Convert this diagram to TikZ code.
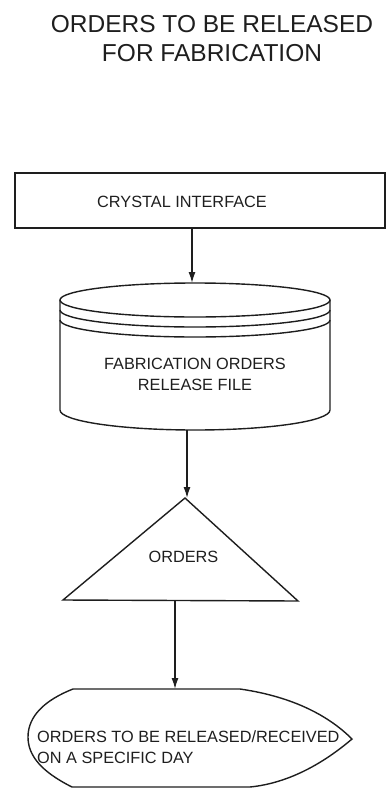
\documentclass[tikz,border=0pt]{standalone}
\usepackage{fontspec}
\setmainfont{Liberation Sans}
\usepackage{tikz}
\usetikzlibrary{positioning,arrows.meta,calc}
\definecolor{inkgray}{HTML}{1E1E1E}
\tikzset{
  box/.style={draw=inkgray,line width=1.6pt,inner sep=0pt},
  lbl/.style={text=inkgray,inner sep=0pt,font=\fontsize{16.3}{21}\selectfont},
  head/.style={text=inkgray,inner sep=0pt,align=center,font=\fontsize{24.5}{29}\selectfont},
  shape line/.style={draw=inkgray,line width=1.4pt},
  arr/.style={-{Latex[length=11pt,width=7pt]},line width=1.4pt,draw=inkgray},
}

\begin{document}
\begin{tikzpicture}[x=1pt,y=-1pt]
\useasboundingbox (0,0) rectangle (390,790);

% heading
\node[head] (title) at (212,38.5) {ORDERS TO BE RELEASED\\FOR FABRICATION};

% interface box
\node[box,minimum width=370pt,minimum height=55pt] (crystal) at (200,200.5) {};
\node[lbl] (crystaltxt) at (182,202) {CRYSTAL INTERFACE};

% release file (stacked disk)
\draw[shape line] (195,300) ellipse [x radius=135pt, y radius=17pt];
\foreach \dy in {10,20} {
  \draw[shape line] (60,300+\dy) arc [start angle=180, end angle=360, x radius=135pt, y radius=17pt];
}
\draw[shape line] (60,300) -- (60,410) arc [start angle=180, end angle=360, x radius=135pt, y radius=20pt] -- (330,300);
\node[lbl,align=center] (file) at (195,374) {FABRICATION ORDERS\\RELEASE FILE};
\coordinate (filetop) at (192,283);
\coordinate (filebot) at (187,430);

% orders triangle
\draw[shape line,line join=miter] (63,600) -- (185,498) -- (298,601) -- cycle;
\node[lbl] (orders) at (183.5,557) {ORDERS};
\coordinate (orderstop) at (187,498);
\coordinate (ordersbot) at (175,601);

% output shape
\draw[shape line] (73,689) -- (240,689)
  .. controls (295,697) and (330,717) .. (352,739)
  .. controls (325,762) and (290,783) .. (250,787) -- (72,787)
  .. controls (42,772) and (28,756) .. (28,737)
  .. controls (28,716) and (45,700) .. (73,689) -- cycle;
\node[lbl,align=left,anchor=west] (day) at (37,747) {ORDERS TO BE RELEASED/RECEIVED\\ON A SPECIFIC DAY};
\coordinate (daytop) at (175,689);

% flow
\draw[arr] (crystal.south -| filetop) -- (filetop);
\draw[arr] (filebot) -- (orderstop);
\draw[arr] (ordersbot) -- (daytop);

\end{tikzpicture}
\end{document}
